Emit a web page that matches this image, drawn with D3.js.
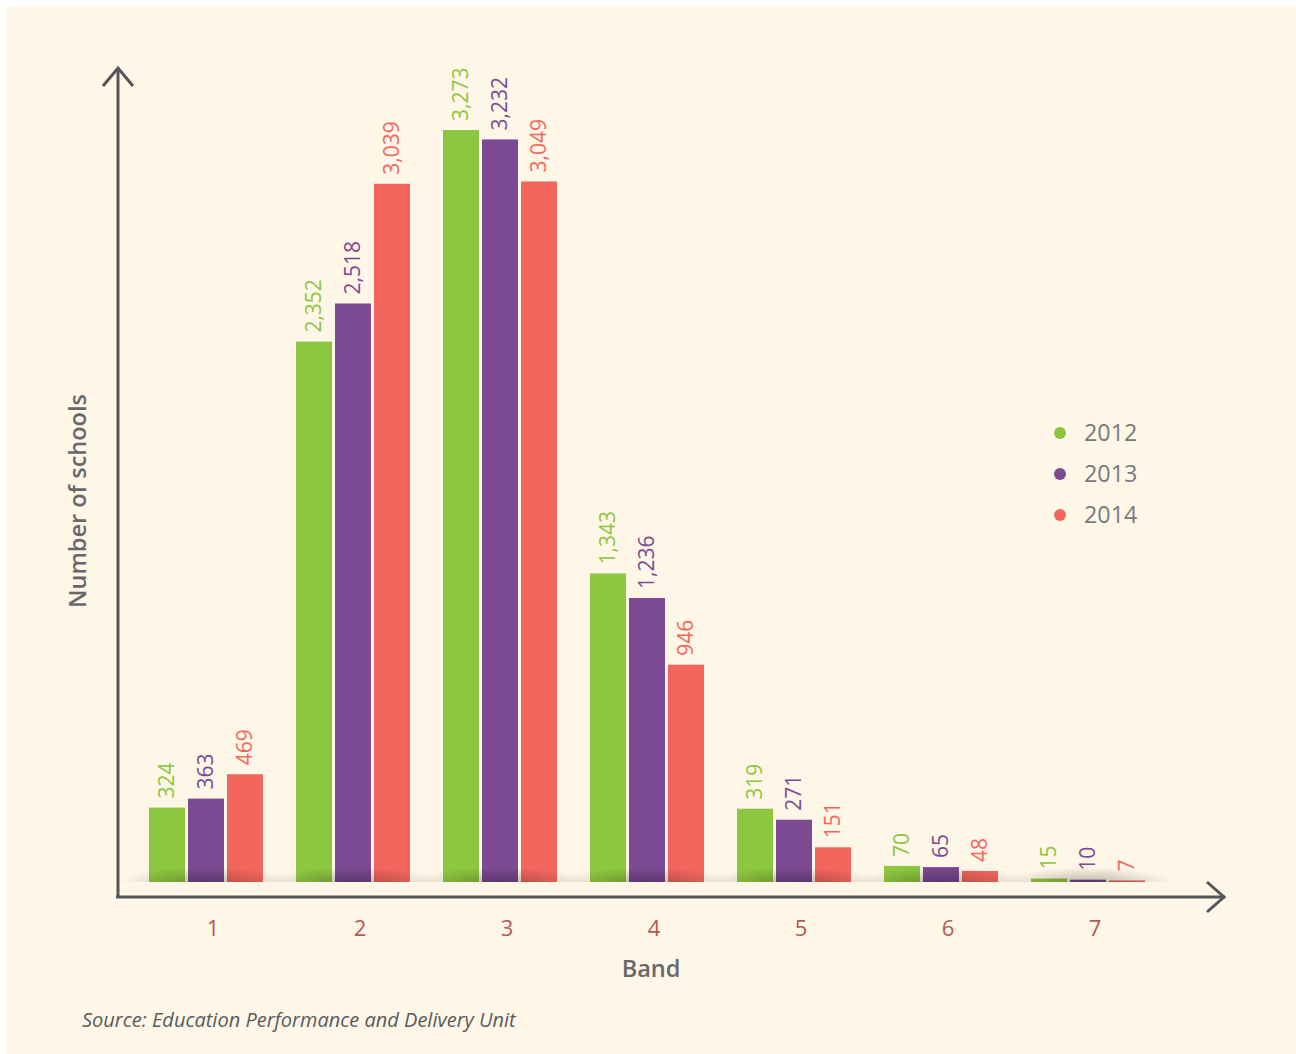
<!DOCTYPE html>
<html><head><meta charset="utf-8">
<script src="https://cdn.jsdelivr.net/npm/d3@7/dist/d3.min.js"></script>
<style>html,body{margin:0;padding:0;background:#fff;}svg{display:block;font-family:"Open Sans",sans-serif;}</style>
</head><body>
<script>
const bands = ["1","2","3","4","5","6","7"];
const seriesNames = ["2012","2013","2014"];
const values2012 = [324, 2352, 3273, 1343, 319, 70, 15];
const values2013 = [363, 2518, 3232, 1236, 271, 65, 10];
const values2014 = [469, 3039, 3049, 946, 151, 48, 7];
const colors = ["#8dc63f", "#7c4a93", "#f2665e"];
const seriesValues = [values2012, values2013, values2014];

const W = 1296, H = 1054;
const svg = d3.select("body").append("svg").attr("width", W).attr("height", H);
svg.append("rect").attr("x", 7).attr("y", 6).attr("width", W - 7).attr("height", H - 6).attr("fill", "#fef6e6");

const base = 882;
const y = d3.scaleLinear().domain([0, 3273]).range([base, 130]);
const x0 = d3.scaleBand().domain(bands).range([149, 149 + 7 * 147 - 33]).paddingInner(33 / 147).paddingOuter(0);
const x1 = d3.scaleBand().domain(seriesNames).range([0, x0.bandwidth()]).paddingInner(3 / 39).paddingOuter(0);

const defs = svg.append("defs");
const rg = defs.append("radialGradient").attr("id", "shadow");
rg.append("stop").attr("offset", "0%").attr("stop-color", "#000").attr("stop-opacity", 0.28);
rg.append("stop").attr("offset", "60%").attr("stop-color", "#000").attr("stop-opacity", 0.1);
rg.append("stop").attr("offset", "100%").attr("stop-color", "#000").attr("stop-opacity", 0);
defs.append("clipPath").attr("id", "above").append("rect").attr("x", 0).attr("y", 0).attr("width", W).attr("height", base);

// bars
const groups = svg.append("g").selectAll("g").data(bands).join("g")
  .attr("transform", d => `translate(${x0(d)},0)`);
seriesNames.forEach((s, si) => {
  groups.append("rect")
    .attr("x", x1(s))
    .attr("y", (d, i) => y(seriesValues[si][i]))
    .attr("width", x1.bandwidth())
    .attr("height", (d, i) => base - y(seriesValues[si][i]))
    .attr("fill", colors[si]);
});
// soft shadow at baseline
svg.append("g").attr("clip-path", "url(#above)").selectAll("ellipse").data(bands).join("ellipse")
  .attr("cx", d => x0(d) + x0.bandwidth() / 2)
  .attr("cy", base + 1)
  .attr("rx", x0.bandwidth() / 2 + 30)
  .attr("ry", 16)
  .attr("fill", "url(#shadow)");

// value labels
const fmt = d3.format(",");
seriesNames.forEach((s, si) => {
  groups.append("text")
    .attr("transform", (d, i) => `translate(${x1(s) + x1.bandwidth() / 2 + 7},${y(seriesValues[si][i]) - 9}) rotate(-90)`)
    .attr("text-anchor", "start")
    .attr("font-size", 21)
    .attr("fill", colors[si])
    .text((d, i) => fmt(seriesValues[si][i]));
});

// axes
const axisColor = "#555559";
const ax = svg.append("g").attr("stroke", axisColor).attr("stroke-width", 3).attr("fill", "none");
ax.append("line").attr("x1", 118).attr("y1", 68).attr("x2", 118).attr("y2", 898);
ax.append("line").attr("x1", 116).attr("y1", 897).attr("x2", 1225).attr("y2", 897);
ax.append("polyline").attr("points", "103,86 118,68 133,86");
ax.append("polyline").attr("points", "1207,882 1224,897 1207,912");

// tick labels
svg.append("g").selectAll("text").data(bands).join("text")
  .attr("x", d => x0(d) + x0.bandwidth() / 2 + 7)
  .attr("y", 936)
  .attr("text-anchor", "middle")
  .attr("font-size", 22)
  .attr("fill", "#b35a55")
  .text(d => d);

// axis titles
svg.append("text").attr("x", 651).attr("y", 977).attr("text-anchor", "middle")
  .attr("font-size", 23.5).attr("font-weight", 600).attr("fill", "#68686c").text("Band");
svg.append("text").attr("transform", "translate(86,501) rotate(-90)").attr("text-anchor", "middle")
  .attr("font-size", 23.5).attr("font-weight", 600).attr("fill", "#68686c").text("Number of schools");

// legend
const leg = svg.append("g").selectAll("g").data(seriesNames).join("g")
  .attr("transform", (d, i) => `translate(1060,${433 + i * 41})`);
leg.append("circle").attr("r", 6).attr("fill", (d, i) => colors[i]);
leg.append("text").attr("x", 24).attr("y", 8).attr("font-size", 23.3).attr("fill", "#7a7a7e").text(d => d);

// source
svg.append("text").attr("x", 82).attr("y", 1027).attr("font-size", 20).attr("font-style", "italic")
  .attr("fill", "#5a5a5e").text("Source: Education Performance and Delivery Unit");
</script>
</body></html>
